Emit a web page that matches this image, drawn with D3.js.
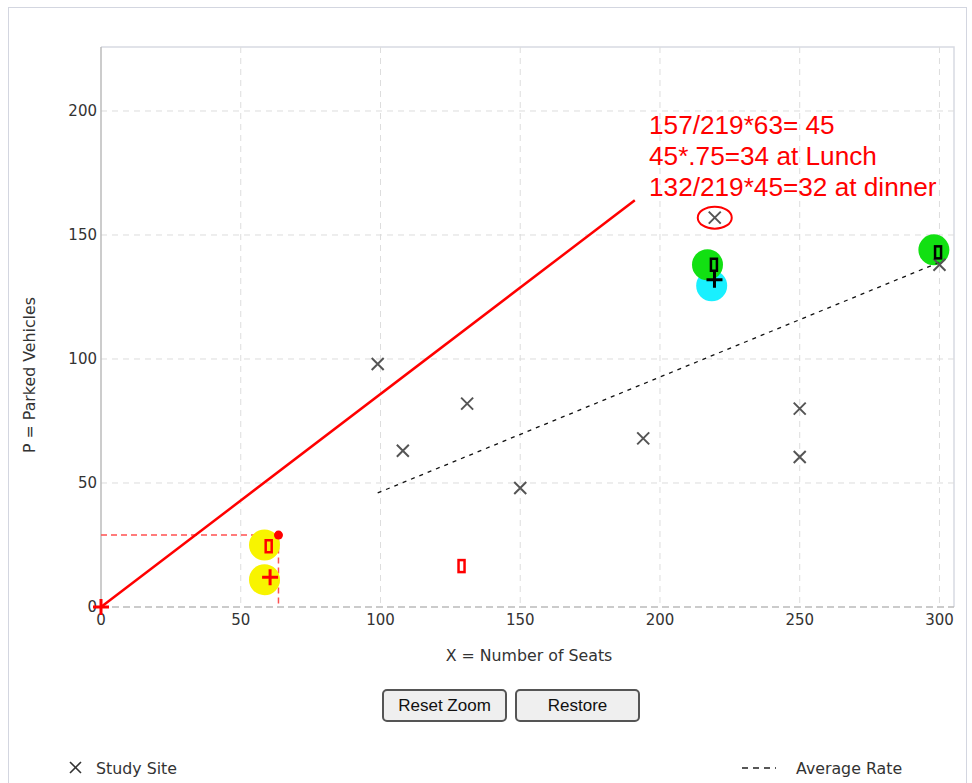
<!DOCTYPE html>
<html>
<head>
<meta charset="utf-8">
<script src="https://cdn.jsdelivr.net/npm/d3@7"></script>
<style>
  body { margin: 0; background: #fff; }
  #wrap { position: relative; width: 972px; height: 783px; overflow: hidden; }
  #frame { position: absolute; left: 8px; top: 7px; width: 959px; height: 800px; border: 1px solid #d3d6e0; box-sizing: border-box; }
  svg { position: absolute; left: 0; top: 0; }
  .btn { position: absolute; top: 689px; height: 33px; width: 125px; box-sizing: border-box;
         border: 2px solid #555; border-radius: 5px; background: #efefef;
         font-family: "Liberation Sans", Arial, sans-serif; font-size: 17px; color: #111; padding: 0; }
  .grid line { stroke: #ddd; stroke-dasharray: 6,5; }
  .tick-lbl { font-family: "DejaVu Sans", Verdana, sans-serif; font-size: 15px; fill: #333; }
  .title-lbl { font-family: "DejaVu Sans", Verdana, sans-serif; font-size: 15.8px; fill: #333; }
</style>
</head>
<body>
<div id="wrap">
  <div id="frame"></div>
  <div id="chart"></div>
  <button class="btn" style="left:382px">Reset Zoom</button>
  <button class="btn" style="left:515px">Restore</button>
</div>
<script>
// data (x = seats, y = parked vehicles)
const x_ticks = [0, 50, 100, 150, 200, 250, 300];
const y_ticks = [0, 50, 100, 150, 200];
const study_sites = [[99, 98], [108, 63], [131, 82], [150, 48], [194, 68], [219.6, 157], [250, 80], [250, 60.5], [300, 138]];
const avg_rate = [[99, 46], [300, 139]];
const red_line = [[0, 0], [191, 164]];
const guide_line = [[0, 29], [63.5, 29], [63.5, 0]];
const yellow_pts = [[58.5, 25], [58.5, 11]];
const green_pts = [[217, 138], [298, 144]];
const cyan_pts = [[218.5, 129.5]];
const red_rects = [[60, 24.5], [129, 16.5]];
const black_rects = [[219.3, 138], [299.5, 143]];
const red_plus = [[0, 0], [60.5, 12]];
const black_plus = [[219.5, 132]];
const red_dot = [[63.5, 29]];
const circled = [[219.6, 157]];
const note_lines = ['157/219*63= 45', '45*.75=34 at Lunch', '132/219*45=32 at dinner'];

const svg = d3.select('#chart').append('svg').attr('width', 972).attr('height', 783);

const plot = {left: 101, right: 954, top: 47, bottom: 607};
const x = d3.scaleLinear([0, 305.2], [plot.left, plot.right]);
const y = d3.scaleLinear([0, 225.8], [plot.bottom, plot.top]);

// plot border (top/right)
svg.append('path')
  .attr('d', `M${plot.left},${plot.top}H${plot.right}V${plot.bottom}`)
  .attr('fill', 'none').attr('stroke', '#d8dae2').attr('stroke-width', 1.5);

// grid
const grid = svg.append('g').attr('class', 'grid');
grid.selectAll('.gx').data(x_ticks.slice(1)).join('line')
  .attr('x1', d => x(d)).attr('x2', d => x(d)).attr('y1', plot.top).attr('y2', plot.bottom);
grid.selectAll('.gy').data(y_ticks.slice(1)).join('line')
  .attr('y1', d => y(d)).attr('y2', d => y(d)).attr('x1', plot.left).attr('x2', plot.right);

// axes
svg.append('line').attr('x1', plot.left).attr('x2', plot.right).attr('y1', plot.bottom).attr('y2', plot.bottom)
  .attr('stroke', '#bbb').attr('stroke-width', 1.5).attr('stroke-dasharray', '7,4');
svg.append('line').attr('x1', plot.left).attr('x2', plot.left).attr('y1', plot.top).attr('y2', plot.bottom)
  .attr('stroke', '#bbb').attr('stroke-width', 1.5);

svg.selectAll('.xl').data(x_ticks).join('text').attr('class', 'tick-lbl')
  .attr('x', d => x(d)).attr('y', 625).attr('text-anchor', 'middle').text(d => d);
svg.selectAll('.yl').data(y_ticks).join('text').attr('class', 'tick-lbl')
  .attr('x', 97).attr('y', d => y(d) + 5).attr('text-anchor', 'end').text(d => d);

svg.append('text').attr('class', 'title-lbl').attr('x', 529).attr('y', 661)
  .attr('text-anchor', 'middle').text('X = Number of Seats');
svg.append('text').attr('class', 'title-lbl')
  .attr('transform', 'translate(35,375) rotate(-90)')
  .attr('text-anchor', 'middle').text('P = Parked Vehicles');

const line = d3.line().x(d => x(d[0])).y(d => y(d[1]));

// guide dashes
svg.append('path').attr('d', line(guide_line)).attr('fill', 'none')
  .attr('stroke', '#ff5050').attr('stroke-width', 1.5).attr('stroke-dasharray', '6,4');

// circles
const circ = (data, col) => svg.append('g').selectAll('circle').data(data).join('circle')
  .attr('cx', d => x(d[0])).attr('cy', d => y(d[1])).attr('r', 15.5).attr('fill', col);
circ(yellow_pts, '#f8f400');
circ(cyan_pts, '#19f0ff');
circ(green_pts, '#12e012');

// average rate
svg.append('path').attr('d', line(avg_rate)).attr('fill', 'none')
  .attr('stroke', '#111').attr('stroke-width', 1.3).attr('stroke-dasharray', '4,5');

// red line
svg.append('path').attr('d', line(red_line)).attr('fill', 'none')
  .attr('stroke', '#f00').attr('stroke-width', 2.5);

// study sites (x markers)
const xs = 6;
svg.append('g').selectAll('path').data(study_sites).join('path')
  .attr('d', d => `M${x(d[0]) - xs},${y(d[1]) - xs}L${x(d[0]) + xs},${y(d[1]) + xs}M${x(d[0]) - xs},${y(d[1]) + xs}L${x(d[0]) + xs},${y(d[1]) - xs}`)
  .attr('stroke', '#555').attr('stroke-width', 2).attr('fill', 'none');

svg.append('g').selectAll('ellipse').data(circled).join('ellipse')
  .attr('cx', d => x(d[0])).attr('cy', d => y(d[1])).attr('rx', 17).attr('ry', 11)
  .attr('fill', 'none').attr('stroke', '#f00').attr('stroke-width', 2);

// rect markers
const rects = (data, col) => svg.append('g').selectAll('rect').data(data).join('rect')
  .attr('x', d => x(d[0]) - 3).attr('y', d => y(d[1]) - 6).attr('width', 6).attr('height', 12)
  .attr('fill', 'none').attr('stroke', col).attr('stroke-width', 2.5);
rects(red_rects, '#f00');
rects(black_rects, '#000');

// plus markers
const plus = (data, col) => svg.append('g').selectAll('path').data(data).join('path')
  .attr('d', d => `M${x(d[0]) - 8},${y(d[1])}H${x(d[0]) + 8}M${x(d[0])},${y(d[1]) - 8}V${y(d[1]) + 8}`)
  .attr('stroke', col).attr('stroke-width', 3).attr('fill', 'none');
plus(red_plus, '#f00');
plus(black_plus, '#000');

svg.append('g').selectAll('circle').data(red_dot).join('circle')
  .attr('cx', d => x(d[0])).attr('cy', d => y(d[1])).attr('r', 4.5).attr('fill', '#f00');

// annotation
svg.append('g').selectAll('text').data(note_lines).join('text')
  .attr('x', 649).attr('y', (d, i) => 134 + i * 31)
  .attr('font-family', '"Liberation Sans", Arial, sans-serif').attr('font-size', 26.2)
  .attr('fill', '#f00').text(d => d);

// legend
const leg = svg.append('g');
leg.append('path').attr('d', 'M70,762L81,773M70,773L81,762').attr('stroke', '#333').attr('stroke-width', 1.6);
leg.append('text').attr('class', 'title-lbl').attr('x', 96).attr('y', 774).text('Study Site');
leg.append('line').attr('x1', 742).attr('x2', 776).attr('y1', 768).attr('y2', 768)
  .attr('stroke', '#222').attr('stroke-width', 1.3).attr('stroke-dasharray', '6,5');
leg.append('text').attr('class', 'title-lbl').attr('x', 796).attr('y', 774).text('Average Rate');
</script>
</body>
</html>
